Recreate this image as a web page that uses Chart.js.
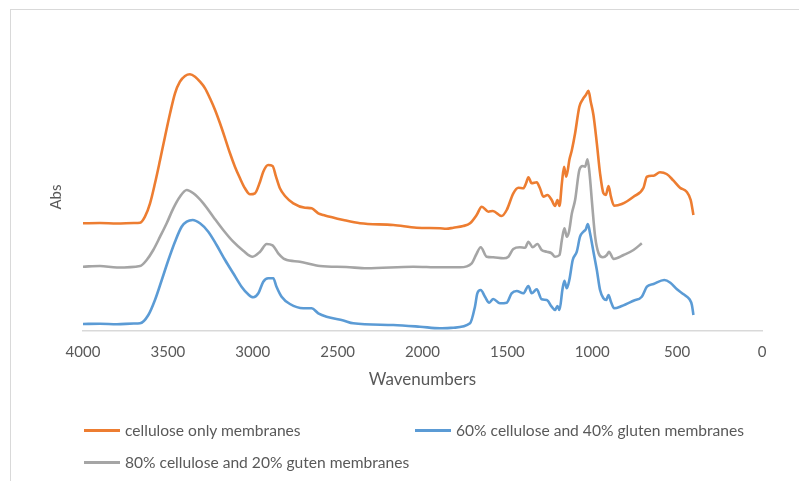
<!DOCTYPE html>
<html>
<head>
<meta charset="utf-8">
<script src="https://cdn.jsdelivr.net/npm/chart.js@4.4.1/dist/chart.umd.min.js"></script>
<style>
  html, body { margin: 0; padding: 0; background: #fff; overflow: hidden; }
  #wrap { position: relative; width: 799px; height: 481px; }
  #frame { position: absolute; left: 10px; top: 9px; width: 900px; height: 600px; border: 1px solid #d9d9d9; box-sizing: border-box; }
  canvas { position: absolute; left: 0; top: 0; }
  .leg { position: absolute; font-family: Lato, "Open Sans", sans-serif; font-size: 15.6px; color: #595959; white-space: nowrap; display: flex; align-items: center; height: 20px; }
  .leg i { display: inline-block; width: 36px; height: 3px; margin-right: 5px; }
</style>
</head>
<body>
<div id="wrap">
  <div id="frame"></div>
  <canvas id="c" width="799" height="481"></canvas>
  <div id="legend"></div>
</div>
<script>
// ---- data (wavenumber, absorbance in arbitrary units) ----
const seriesLabels = ["cellulose only membranes", "60% cellulose and 40% gluten membranes", "80% cellulose and 20% guten membranes"];
const seriesColors = ["#ED7D31", "#5B9BD5", "#A5A5A5"];
const xTickStep = 500;

const celluloseX = [4000,3900,3800,3700,3664,3635,3605,3576,3546,3517,3487,3458,3429,3399,3370,3340,3311,3281,3252,3222,3193,3163,3134,3105,3075,3046,3016,2987,2957,2938,2909,2883,2863,2840,2810,2761,2692,2653,2614,2584,2466,2368,2172,2035,1897,1860,1818,1760,1720,1681,1651,1612,1586,1534,1504,1465,1435,1406,1390,1376,1357,1327,1308,1288,1264,1239,1219,1205,1193,1179,1166,1154,1144,1135,1120,1101,1076,1056,1038,1022,1009,993,973,954,934,920,904,890,871,826,757,698,678,639,601,562,521,483,444,420,404];
const celluloseY = [1.077,1.08,1.075,1.08,1.083,1.143,1.277,1.477,1.71,1.943,2.177,2.377,2.493,2.55,2.567,2.543,2.493,2.427,2.327,2.21,2.077,1.927,1.777,1.643,1.527,1.427,1.367,1.377,1.493,1.593,1.66,1.65,1.543,1.427,1.35,1.277,1.233,1.227,1.177,1.16,1.11,1.077,1.06,1.033,1.027,1.022,1.033,1.05,1.077,1.16,1.243,1.193,1.2,1.15,1.21,1.377,1.433,1.427,1.477,1.537,1.477,1.487,1.427,1.343,1.36,1.31,1.25,1.31,1.25,1.477,1.643,1.543,1.61,1.71,1.81,1.977,2.243,2.317,2.36,2.403,2.293,2.16,1.877,1.577,1.377,1.36,1.45,1.343,1.253,1.27,1.343,1.433,1.543,1.553,1.587,1.57,1.503,1.433,1.393,1.31,1.16];

const gluten40X = [4000,3900,3800,3700,3664,3615,3576,3536,3497,3458,3419,3389,3354,3311,3262,3213,3163,3115,3066,3027,2997,2967,2938,2909,2879,2860,2830,2781,2702,2653,2614,2565,2466,2408,2172,2015,1897,1818,1720,1691,1677,1657,1632,1607,1583,1544,1504,1475,1445,1406,1376,1357,1327,1298,1268,1239,1219,1205,1193,1176,1164,1150,1135,1115,1091,1072,1052,1038,1026,1013,993,973,954,934,918,904,890,871,826,757,708,678,639,576,540,501,462,427,413,404];
const gluten40Y = [0.07,0.072,0.068,0.075,0.077,0.16,0.31,0.51,0.71,0.893,1.043,1.093,1.11,1.077,0.993,0.86,0.71,0.577,0.443,0.367,0.337,0.377,0.493,0.527,0.527,0.443,0.343,0.27,0.227,0.227,0.177,0.143,0.105,0.077,0.06,0.043,0.027,0.033,0.077,0.243,0.377,0.41,0.343,0.283,0.32,0.277,0.283,0.377,0.40,0.377,0.45,0.377,0.417,0.317,0.31,0.243,0.21,0.25,0.21,0.41,0.503,0.427,0.51,0.71,0.793,0.943,0.993,1.017,1.07,0.977,0.793,0.61,0.41,0.327,0.31,0.36,0.293,0.227,0.25,0.303,0.343,0.443,0.47,0.51,0.483,0.417,0.367,0.317,0.26,0.16];

const gluten20X = [4000,3900,3800,3664,3625,3586,3546,3507,3468,3429,3389,3350,3291,3233,3174,3115,3056,3001,2957,2918,2883,2850,2810,2722,2604,2450,2329,2054,1897,1779,1710,1685,1657,1622,1583,1524,1494,1465,1426,1396,1376,1351,1323,1298,1268,1239,1219,1193,1179,1164,1150,1137,1120,1101,1076,1056,1042,1028,1016,1001,983,963,938,914,902,874,815,757,708];
const gluten20Y = [0.643,0.65,0.635,0.65,0.71,0.81,0.943,1.077,1.227,1.343,1.41,1.377,1.277,1.143,1.01,0.893,0.803,0.743,0.793,0.87,0.857,0.777,0.717,0.693,0.65,0.64,0.627,0.643,0.637,0.637,0.677,0.76,0.837,0.743,0.737,0.727,0.743,0.82,0.837,0.833,0.893,0.837,0.87,0.81,0.793,0.777,0.743,0.76,0.91,1.027,0.943,0.993,1.177,1.31,1.61,1.65,1.643,1.717,1.577,1.277,0.943,0.777,0.737,0.76,0.793,0.72,0.76,0.81,0.877];

const xs = [celluloseX, gluten40X, gluten20X];
const ys = [celluloseY, gluten40Y, gluten20Y];

const FONT = "Lato, 'Open Sans', sans-serif";
const TXT = "#595959";

const datasets = seriesLabels.map((label, i) => ({
  label,
  data: xs[i].map((x, k) => ({ x, y: ys[i][k] })),
  borderColor: seriesColors[i],
  backgroundColor: seriesColors[i],
  borderWidth: 2.6,
  pointRadius: 0,
  fill: false,
  cubicInterpolationMode: 'monotone'
}));

new Chart(document.getElementById('c'), {
  type: 'line',
  data: { datasets },
  options: {
    responsive: false,
    animation: false,
    layout: { padding: { left: 0, right: 37, top: 63, bottom: 90 } },
    plugins: { legend: { display: false }, tooltip: { enabled: false } },
    scales: {
      x: {
        type: 'linear', reverse: true, min: 0, max: 4000,
        ticks: { stepSize: xTickStep, color: TXT, font: { family: FONT, size: 15 }, padding: 12, maxRotation: 0,
                 callback: v => String(v) },
        grid: { display: false, drawTicks: false },
        border: { display: true, color: '#d9d9d9', width: 1.5 },
        title: { display: true, text: 'Wavenumbers', color: TXT, font: { family: FONT, size: 17 }, padding: { top: 4, bottom: 1 } },
        afterFit: s => { s.height = 60; }
      },
      y: {
        min: 0, max: 2.68,
        ticks: { display: false },
        grid: { display: false, drawTicks: false },
        border: { display: false },
        title: { display: true, text: 'Abs', color: TXT, font: { family: FONT, size: 15 }, padding: { top: 47, bottom: 0 } },
        afterFit: s => { s.width = 83; }
      }
    }
  }
});

// HTML legend built from the same series
const legPos = [[84, 420], [415, 420], [84, 452]];
const legend = document.getElementById('legend');
seriesLabels.forEach((label, i) => {
  const d = document.createElement('div');
  d.className = 'leg';
  d.style.left = legPos[i][0] + 'px';
  d.style.top = legPos[i][1] + 'px';
  d.innerHTML = '<i style="background:' + seriesColors[i] + '"></i>';
  d.appendChild(document.createTextNode(label));
  legend.appendChild(d);
});
</script>
</body>
</html>
